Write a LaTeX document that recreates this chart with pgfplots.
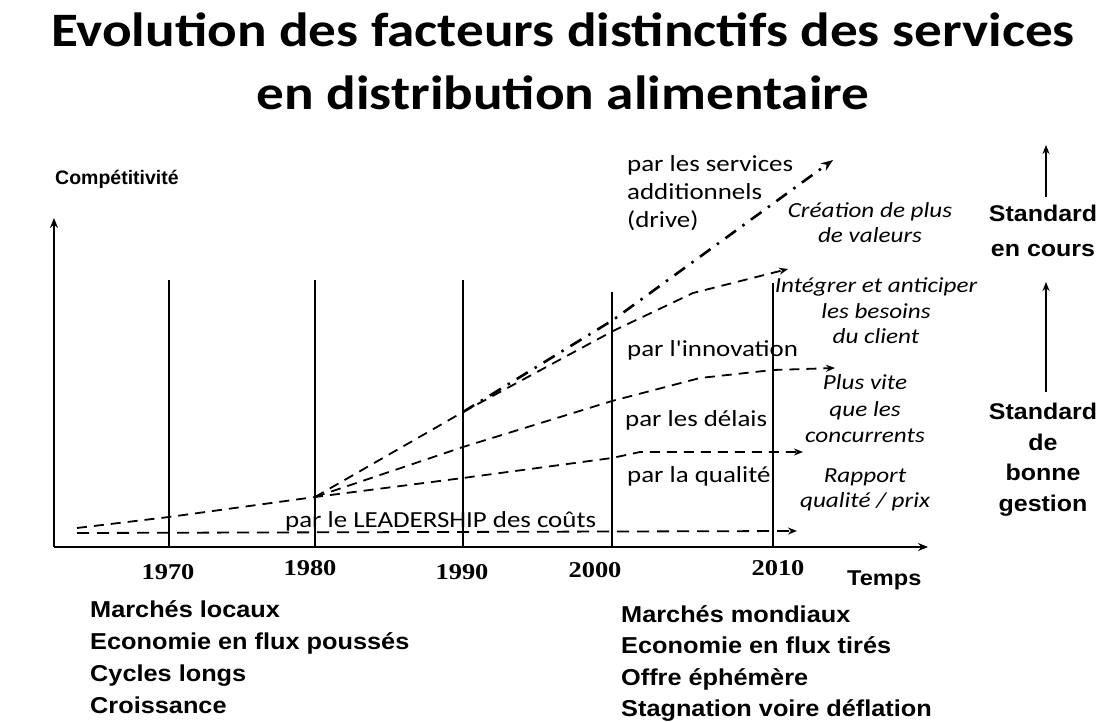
\documentclass[border=0pt]{standalone}
\usepackage{pgfplots}
\pgfplotsset{compat=1.18}
\usepackage{graphicx}
\usepackage{fontspec}
\setmainfont{Liberation Sans}
\newfontfamily\calfont{Carlito}
\newfontfamily\tmsfont{Liberation Serif}
\usetikzlibrary{arrows.meta}
\newcommand{\hs}[2][1.17]{\scalebox{#1}[1]{#2}}
\tikzset{tip/.style={-{Stealth[length=9bp,width=7bp]}}}
\begin{document}
\begin{tikzpicture}
\useasboundingbox (0,0) rectangle (1107bp,722bp);
\begin{axis}[
  at={(54bp,175bp)}, anchor=south west,
  scale only axis, width=874bp, height=329bp,
  xmin=54, xmax=928, ymin=0, ymax=329,
  axis lines=left,
  axis line style={line width=2bp},
  every outer x axis line/.append style={-{Stealth[length=10bp,width=8bp]}},
  every outer y axis line/.append style={-{Stealth[length=10bp,width=8bp]}},
  xtick=\empty, ytick=\empty,
  clip=false,
]
% time markers
\addplot[line width=1.8bp] coordinates {(169,0) (169,267)};
\addplot[line width=1.8bp] coordinates {(315,0) (315,267)};
\addplot[line width=1.8bp] coordinates {(463,0) (463,267)};
\addplot[line width=1.8bp] coordinates {(612,0) (612,255)};
\addplot[line width=1.8bp] coordinates {(773,0) (773,264)};
% leadership des couts
\addplot[line width=1.8bp, dash pattern=on 12bp off 8bp, tip] coordinates {(77,14) (797,16)};
% qualite
\addplot[line width=1.8bp, dash pattern=on 10bp off 7bp, tip] coordinates {(77,19) (169,30) (315,50) (463,69) (612,89) (640,95) (803,95)};
% delais
\addplot[line width=1.8bp, dash pattern=on 10bp off 7bp, tip] coordinates {(315,50) (463,100) (612,146) (700,169) (773,177) (835,179)};
% innovation
\addplot[line width=1.8bp, dash pattern=on 10bp off 7bp, tip] coordinates {(315,50) (463,135) (613,216) (693,254) (788,278)};
% services additionnels
\addplot[line width=2.6bp, dash pattern=on 13bp off 8bp on 2.5bp off 8bp, -{Stealth[length=12bp,width=9bp]}] coordinates {(463,135) (613,227) (833,387)};

% title
\node[anchor=base, inner sep=0] at (axis cs:563,500) {\hs[1.15]{\calfont\bfseries\fontsize{48bp}{56bp}\selectfont Evolution des facteurs distinctifs des services}};
\node[anchor=base, inner sep=0] at (axis cs:563,437) {\hs[1.15]{\calfont\bfseries\fontsize{48bp}{56bp}\selectfont en distribution alimentaire}};

% axis labels
\node[anchor=base west, inner sep=0] at (axis cs:55,362) {\bfseries\fontsize{19.5bp}{22bp}\selectfont Compétitivité};
\node[anchor=base west, inner sep=0] at (axis cs:847,-38) {\hs[1.1]{\bfseries\fontsize{21.4bp}{24bp}\selectfont Temps}};

% years
\node[anchor=base, inner sep=0] at (axis cs:168,-32) {\hs{\tmsfont\bfseries\fontsize{22.6bp}{24bp}\selectfont 1970}};
\node[anchor=base, inner sep=0] at (axis cs:310,-28) {\hs{\tmsfont\bfseries\fontsize{22.6bp}{24bp}\selectfont 1980}};
\node[anchor=base, inner sep=0] at (axis cs:462,-32) {\hs{\tmsfont\bfseries\fontsize{22.6bp}{24bp}\selectfont 1990}};
\node[anchor=base, inner sep=0] at (axis cs:595,-30) {\hs{\tmsfont\bfseries\fontsize{22.6bp}{24bp}\selectfont 2000}};
\node[anchor=base, inner sep=0] at (axis cs:778,-28) {\hs{\tmsfont\bfseries\fontsize{22.6bp}{24bp}\selectfont 2010}};

% bottom texts
\node[anchor=base west, inner sep=0] at (axis cs:90,-70) {\hs[1.1]{\bfseries\fontsize{23bp}{32bp}\selectfont\begin{tabular}[t]{@{}l@{}}Marchés locaux\\Economie en flux poussés\\Cycles longs\\Croissance\end{tabular}}};
\node[anchor=base west, inner sep=0] at (axis cs:621,-75) {\hs[1.1]{\bfseries\fontsize{23bp}{31.5bp}\selectfont\begin{tabular}[t]{@{}l@{}}Marchés mondiaux\\Economie en flux tirés\\Offre éphémère\\Stagnation voire déflation\end{tabular}}};

% path labels
\node[anchor=base west, inner sep=0] at (axis cs:627,375) {\hs{\calfont\fontsize{23bp}{28bp}\selectfont\begin{tabular}[t]{@{}l@{}}par les services\\additionnels\\(drive)\end{tabular}}};
\node[anchor=base west, inner sep=0] at (axis cs:627,190) {\hs{\calfont\fontsize{23bp}{28bp}\selectfont par l'innovation}};
\node[anchor=base west, inner sep=0] at (axis cs:625,120) {\hs{\calfont\fontsize{23bp}{28bp}\selectfont par les délais}};
\node[anchor=base west, inner sep=0] at (axis cs:627,64) {\hs{\calfont\fontsize{23bp}{28bp}\selectfont par la qualité}};
\node[anchor=base west, inner sep=0] at (axis cs:285,20) {\hs{\calfont\fontsize{23bp}{28bp}\selectfont par le LEADERSHIP des coûts}};

% italic outcomes
\node[anchor=base, inner sep=0] at (axis cs:870,329) {\hs{\calfont\itshape\fontsize{21.5bp}{25bp}\selectfont\begin{tabular}[t]{@{}c@{}}Création de plus\\de valeurs\end{tabular}}};
\node[anchor=base, inner sep=0] at (axis cs:876,254) {\hs{\calfont\itshape\fontsize{21.5bp}{25.5bp}\selectfont\begin{tabular}[t]{@{}c@{}}Intégrer et anticiper\\les besoins\\du client\end{tabular}}};
\node[anchor=base, inner sep=0] at (axis cs:865,157) {\hs{\calfont\itshape\fontsize{21.5bp}{26.5bp}\selectfont\begin{tabular}[t]{@{}c@{}}Plus vite\\que les\\concurrents\end{tabular}}};
\node[anchor=base, inner sep=0] at (axis cs:865,64) {\hs{\calfont\itshape\fontsize{21.5bp}{25bp}\selectfont\begin{tabular}[t]{@{}c@{}}Rapport\\qualité / prix\end{tabular}}};

% right column
\draw[line width=1.8bp, -{Stealth[length=9bp,width=7bp]}] (axis cs:1046,350) -- (axis cs:1046,402);
\draw[line width=1.8bp, -{Stealth[length=9bp,width=7bp]}] (axis cs:1046,155) -- (axis cs:1046,265);
\node[anchor=base, inner sep=0] at (axis cs:1043,325) {\hs[1.1]{\bfseries\fontsize{22.7bp}{35bp}\selectfont\begin{tabular}[t]{@{}c@{}}Standard\\en cours\end{tabular}}};
\node[anchor=base, inner sep=0] at (axis cs:1043,127) {\hs[1.1]{\bfseries\fontsize{22.7bp}{30.5bp}\selectfont\begin{tabular}[t]{@{}c@{}}Standard\\de\\bonne\\gestion\end{tabular}}};
\end{axis}
\end{tikzpicture}
\end{document}
